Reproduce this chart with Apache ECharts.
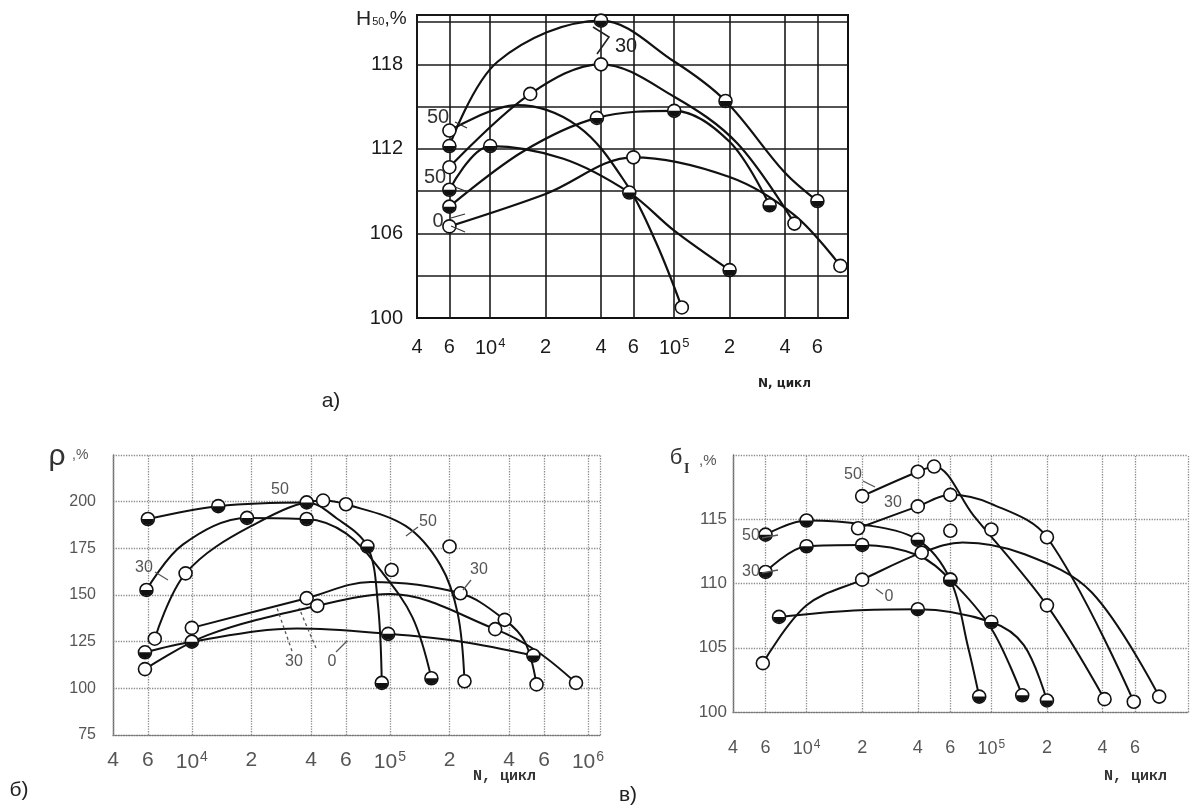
<!DOCTYPE html>
<html><head><meta charset="utf-8">
<script src="https://cdn.jsdelivr.net/npm/echarts@6/dist/echarts.min.js"></script>
<style>html,body{margin:0;padding:0;background:#fff}#c{width:1199px;height:807px}</style>
</head><body><div id="c"></div>
<script>
// ---------- tick values ----------
const xTicksA = [4e3, 6e3, 1e4, 2e4, 4e4, 6e4, 1e5, 2e5, 4e5, 6e5];
const xTicksB = [4e3, 6e3, 1e4, 2e4, 4e4, 6e4, 1e5, 2e5, 4e5, 6e5, 1e6];
const xTicksC = [4e3, 6e3, 1e4, 2e4, 4e4, 6e4, 1e5, 2e5, 4e5, 6e5];
const yTicksA = [100, 106, 112, 118];
const yTicksB = [75, 100, 125, 150, 175, 200];
const yTicksC = [100, 105, 110, 115];

// ---------- a) H50, % vs N ----------
// measured points (markers) and points read along each drawn curve
const aHalf30 = [[6e3,112.2],[4e4,121.1],[1.9e5,115.4],[6e5,108.3]];
const aHalf30Curve = [[1.1e4,118.2],[1e5,118.2],[4e5,110.3]];
const aOpen30 = [[6e3,110.7],[1.65e4,115.9],[4e4,118.0],[4.5e5,106.7]];
const aOpen30Curve = [[1e5,115.7],[2.2e5,112.4]];
const aOpen50 = [[6e3,113.3],[1.1e5,100.75]];
const aOpen50Curve = [[1.4e4,115.1],[3e4,113.6],[5.5e4,109.5],[8e4,105.3]];
const aHalf50 = [[6e3,109.1],[1e4,112.2],[5.7e4,108.9],[2e5,103.4]];
const aHalf50Curve = [[2.5e4,111.3],[1e5,106.2]];
const aHalf0 = [[6e3,107.9],[3.8e4,114.2],[1e5,114.7],[3.3e5,108.0]];
const aHalf0Curve = [[1.5e4,111.8],[2e5,112.5]];
const aOpen0 = [[6e3,106.5],[6e4,111.4],[8e5,103.7]];
const aOpen0Curve = [[2e4,108.8],[2e5,110.0],[4.5e5,107.3]];

// ---------- б) rho, % vs N ----------
const bHalf50 = [[6e3,190.7],[1.36e4,197.6],[3.8e4,199.6],[7.7e4,176],[9.1e4,102.9]];
const bHalf50Curve = [[5.4e4,191],[8.7e4,145]];
const bHalf30 = [[5.9e3,152.7],[1.9e4,191.3],[3.8e4,190.7],[1.62e5,105.4]];
const bHalf30Curve = [[9e3,177],[6e4,183],[9e4,163],[1.3e5,138]];
const bOpen50 = [[6.5e3,126.6],[9.3e3,161.6],[4.6e4,200.6],[6e4,198.6],[2.38e5,103.8]];
const bOpen50Curve = [[2e4,187],[1.2e5,187],[1.8e5,166],[2.2e5,140]];
const bHalf0 = [[5.8e3,119.3],[1e4,125],[9.8e4,129.2],[5.3e5,117.6]];
const bHalf0Curve = [[3.4e4,132],[2.3e5,125]];
const bOpen30 = [[1e4,132.4],[3.8e4,148.3],[2.27e5,150.9],[3.8e5,136.7],[5.5e5,102.1]];
const bOpen30Curve = [[8e4,157],[4.8e5,125]];
const bOpen0 = [[5.8e3,110.3],[4.3e4,144.2],[3.4e5,131.7],[8.7e5,102.9]];
const bOpen0Curve = [[1.2e4,128.5],[1e5,150.5],[5.5e5,120]];
const bOpenLoose = [[1.02e5,163.4],[2e5,176]];

// ---------- в) бI, % vs N ----------
const cOpen50 = [[2e4,116.8],[4e4,118.7],[4.9e4,119.1],[2e5,108.3],[4.1e5,101.0]];
const cOpen50Curve = [[8e4,115.3]];
const cOpen30 = [[1.9e4,114.3],[4e4,116.0],[6e4,116.9],[2e5,113.6],[5.9e5,100.8]];
const cOpen30Curve = [[1e5,116.2]];
const cHalf50 = [[6e3,113.8],[1e4,114.9],[4e4,113.4],[6e4,110.3],[8.6e4,101.2]];
const cHalf50Curve = [[2e4,114.6],[7.5e4,105]];
const cHalf30 = [[6e3,110.9],[1e4,112.9],[2e4,113.0],[6e4,110.3],[1.47e5,101.3]];
const cHalf30Curve = [[4e4,112.2],[1e5,106.5]];
const cHalf0 = [[7.1e3,107.4],[4e4,108.0],[1e5,107.0],[2e5,100.9]];
const cHalf0Curve = [[1.8e4,107.9],[1.5e5,105.2]];
const cOpen0 = [[5.8e3,103.8],[2e4,110.3],[4.2e4,112.4],[8.1e5,101.2]];
const cOpen0Curve = [[1e4,108.3],[7e4,113.2],[1.5e5,112.3],[3.5e5,109.3]];
const cOpenLoose = [[6e4,114.1],[1e5,114.2]];

// ---------- layout ----------
const G = [
  {left:417, top:15, width:431, height:303, xmin:4e3, xmax:8.8e5, ymin:100, ymax:121.5, yint:3,
   xt:xTicksA, yt:yTicksA, solid:true, xfs:20, yfs:20, lblDist:19, ymargin:14, col:'#1b1b1b',
   curves:[[aHalf30,aHalf30Curve,'h'],[aOpen30,aOpen30Curve,'o'],[aOpen50,aOpen50Curve,'o'],[aHalf50,aHalf50Curve,'h'],[aHalf0,aHalf0Curve,'h'],[aOpen0,aOpen0Curve,'o']],
   loose:[]},
  {left:113, top:455, width:487, height:280, xmin:4e3, xmax:1.15e6, ymin:75, ymax:225, yint:25,
   xt:xTicksB, yt:yTicksB, solid:false, xfs:21, yfs:16, lblDist:15, ymargin:17, col:'#555',
   curves:[[bHalf50,bHalf50Curve,'h'],[bHalf30,bHalf30Curve,'h'],[bOpen50,bOpen50Curve,'o'],[bHalf0,bHalf0Curve,'h'],[bOpen30,bOpen30Curve,'o'],[bOpen0,bOpen0Curve,'o']],
   loose:bOpenLoose},
  {left:733, top:455, width:455, height:257, xmin:4e3, xmax:1.16e6, ymin:100, ymax:120, yint:5,
   xt:xTicksC, yt:yTicksC, solid:false, xfs:18, yfs:17, lblDist:27, ymargin:6, col:'#555',
   curves:[[cOpen50,cOpen50Curve,'o'],[cOpen30,cOpen30Curve,'o'],[cHalf50,cHalf50Curve,'h'],[cHalf30,cHalf30Curve,'h'],[cHalf0,cHalf0Curve,'h'],[cOpen0,cOpen0Curve,'o']],
   loose:cOpenLoose}
];

function tickText(v){
  const e = Math.round(Math.log10(v));
  if (Math.abs(v - Math.pow(10, e)) < 1e-9 * v) return '{m|10}{e|' + e + '}';
  const d = Math.pow(10, Math.floor(Math.log10(v) + 1e-9));
  return '{m|' + Math.round(v / d) + '}';
}

const HALF = 'path://M0,0 A10,10 0 0 0 20,0 Z';
const FONT = 'Liberation Sans, Arial, sans-serif';

const grids = [], xAxes = [], yAxes = [], series = [];
G.forEach((g, i) => {
  const gridLine = g.solid ? {color:'#1a1a1a', width:1.6, type:'solid'} : {color:'#8a8a8a', width:1.3, type:'dotted'};
  grids.push({left:g.left, top:g.top, width:g.width, height:g.height, show:g.solid, borderColor:'#111', borderWidth:2, backgroundColor:'transparent'});
  xAxes.push({type:'log', logBase:10, gridIndex:i, min:g.xmin, max:g.xmax,
    axisLabel:{show:false}, axisTick:{show:false}, splitLine:{show:false},
    axisLine:{show:true, lineStyle: g.solid ? {color:'#111', width:2} : {color:'#777', width:1.3, type:'dotted'}}});
  yAxes.push({type:'value', gridIndex:i, min:g.ymin, max:g.ymax, interval:g.yint,
    axisTick:{show:false},
    axisLine:{show:true, lineStyle: g.solid ? {color:'#111', width:2} : {color:'#666', width:1.4}},
    splitLine:{show:true, showMinLine:false, lineStyle:gridLine},
    axisLabel:{margin:g.ymargin, fontSize:g.yfs, fontFamily:FONT, color:g.col,
      formatter: v => (g.yt.indexOf(Math.round(v*1000)/1000) >= 0 ? String(v) : '')}});

  // vertical grid lines + tick labels, placed on the log axis by the library
  const ml = g.xt.map(v => ({xAxis:v, label:{formatter: tickText(v)}}));
  if (!g.solid) ml.push({xAxis:g.xmax, label:{show:false}});
  series.push({type:'line', xAxisIndex:i, yAxisIndex:i, data:[[g.xmin, g.ymin]], symbol:'none',
    lineStyle:{opacity:0}, silent:true, z:1,
    markLine:{silent:true, z:1, symbol:['none','none'], animation:false, lineStyle:gridLine,
      label:{show:true, position:'start', distance:g.lblDist, color:g.col, fontFamily:FONT,
        rich:{m:{fontSize:g.xfs, fontFamily:FONT, color:g.col},
              e:{fontSize:Math.round(g.xfs*0.65), fontFamily:FONT, color:g.col, padding:[0,0,Math.round(g.xfs*0.5),1]}}},
      data: ml}});

  const openPts = [], halfPts = [];
  g.curves.forEach(([pts, trace, kind]) => {
    const all = pts.concat(trace).sort((a, b) => a[0] - b[0]);
    series.push({type:'line', xAxisIndex:i, yAxisIndex:i, data:all, showSymbol:false, symbol:'none',
      smooth:0.35, lineStyle:{color:'#111', width: g.solid ? 2.2 : 2}, z:2, silent:true});
    pts.forEach(p => { openPts.push(p); if (kind === 'h') halfPts.push(p); });
  });
  g.loose.forEach(p => openPts.push(p));
  series.push({type:'scatter', xAxisIndex:i, yAxisIndex:i, data:openPts, symbol:'circle', symbolSize:13,
    itemStyle:{color:'#fff', borderColor:'#111', borderWidth:1.6, opacity:1}, z:3, silent:true});
  series.push({type:'scatter', xAxisIndex:i, yAxisIndex:i, data:halfPts, symbol:HALF, symbolKeepAspect:false,
    symbolSize:[12,6], symbolOffset:[0,3], itemStyle:{color:'#111', opacity:1}, z:4, silent:true});
});

// ---------- annotations ----------
function txt(t, x, y, size, color, extra){
  return Object.assign({type:'text', x:x, y:y, silent:true, z:10,
    style:{text:t, font: size + 'px ' + FONT, fill:color || '#222', align:'center', verticalAlign:'middle'}}, extra || {});
}
function ln(x1, y1, x2, y2, color, dash){
  return {type:'line', silent:true, z:10, shape:{x1:x1, y1:y1, x2:x2, y2:y2},
    style:{stroke:color || '#333', lineWidth:1.3, lineDash: dash ? [3,3] : null}};
}
function poly(pts, color){
  return {type:'polyline', silent:true, z:10, shape:{points:pts}, style:{stroke:color||'#222', lineWidth:1.6, fill:null}};
}
const graphic = [
  // a)
  {type:'text', x:356, y:19, silent:true, style:{rich:{h:{fontSize:21, fontFamily:FONT, fill:'#222'}, s:{fontSize:11, fontFamily:FONT, fill:'#222', padding:[6,0,0,1]}, p:{fontSize:19, fontFamily:FONT, fill:'#222'}},
    text:'{h|H}{s|50}{p|,%}', verticalAlign:'middle'}},
  txt('а)', 331, 401, 21, '#222'),
  {type:'text', x:758, y:384, silent:true, style:{text:'N, цикл', font:'bold 12px DejaVu Sans, sans-serif', fill:'#222', verticalAlign:'middle'}},
  txt('50', 438, 117, 20, '#333'), ln(455,122,467,128,'#333'),
  txt('50', 435, 177, 20, '#333'), ln(455,187,468,192,'#333'),
  txt('0', 438, 221, 20, '#333'), ln(451,218,465,214,'#333'), ln(451,226,465,232,'#333'),
  txt('30', 626, 46, 20, '#222'), poly([[593,27],[609,37],[597,54]], '#222'),
  // б)
  txt('ρ', 57, 457, 30, '#333'),
  {type:'text', x:72, y:455, silent:true, style:{text:',%', font:'14px ' + FONT, fill:'#555', verticalAlign:'middle'}},
  txt('б)', 19, 790, 21, '#222'),
  {type:'text', x:473, y:776, silent:true, style:{text:'N, цикл', font:'bold 15px Liberation Mono, monospace', fill:'#333', verticalAlign:'middle'}},
  txt('50', 280, 490, 16, '#555'),
  txt('30', 144, 568, 16, '#555'), ln(155,572,168,580,'#555'),
  txt('50', 428, 522, 16, '#555'), ln(406,536,418,527,'#555'),
  txt('30', 479, 570, 16, '#555'), ln(463,590,471,580,'#555'),
  txt('30', 294, 662, 16, '#555'), ln(292,651,277,608,'#555',true),
  txt('0', 332, 662, 16, '#555'), ln(316,648,299,608,'#555',true), ln(336,652,347,641,'#555'),
  // в)
  txt('б', 676, 458, 22, '#333'),
  {type:'text', x:684, y:469, silent:true, style:{text:'I', font:'bold 14px Liberation Serif, serif', fill:'#333', verticalAlign:'middle'}},
  {type:'text', x:699, y:461, silent:true, style:{text:',%', font:'15px ' + FONT, fill:'#555', verticalAlign:'middle'}},
  txt('в)', 628, 795, 21, '#222'),
  {type:'text', x:1104, y:776, silent:true, style:{text:'N, цикл', font:'bold 15px Liberation Mono, monospace', fill:'#333', verticalAlign:'middle'}},
  txt('50', 853, 475, 16, '#555'), ln(863,481,875,487,'#555'),
  txt('30', 893, 503, 16, '#555'),
  txt('50', 751, 536, 16, '#555'), ln(762,538,778,535,'#555'),
  txt('30', 751, 572, 16, '#555'), ln(762,573,778,570,'#555'),
  txt('0', 889, 597, 16, '#555'), ln(876,589,883,594,'#555')
];

const chart = echarts.init(document.getElementById('c'));
chart.setOption({
  animation:false,
  backgroundColor:'#ffffff',
  grid:grids, xAxis:xAxes, yAxis:yAxes, series:series, graphic:graphic
});
</script>
</body></html>
